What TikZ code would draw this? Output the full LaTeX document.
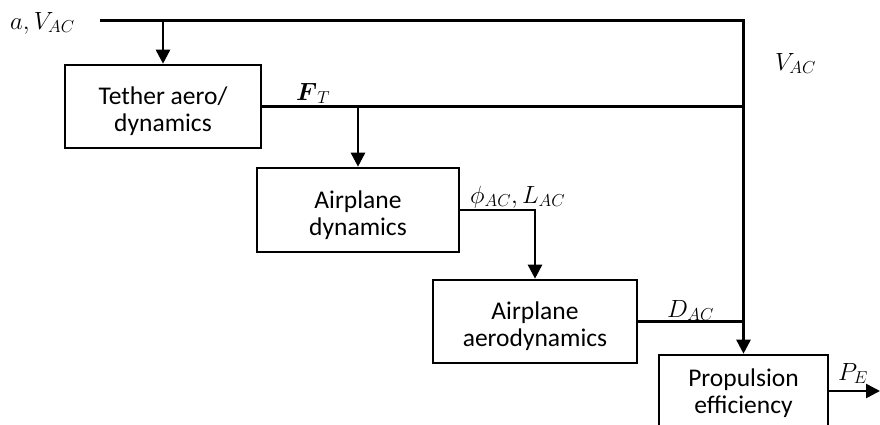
\documentclass[tikz,border=0pt]{standalone}
\usepackage{amsmath}
\usepackage{fontspec}
\setmainfont{Carlito}
\usetikzlibrary{arrows.meta}
\tikzset{
  blk/.style={draw, line width=2.6pt, rectangle, inner sep=0pt},
  txt/.style={align=center, inner sep=0pt, font=\fontsize{25.5}{27}\selectfont},
  wire/.style={line width=2.6pt},
  arr/.style={wire, -{Triangle[width=14pt,length=14pt]}},
  lbl/.style={anchor=base west, inner sep=0pt, font=\fontsize{23}{28}\selectfont}
}
\begin{document}
\begin{tikzpicture}[x=1pt,y=-1pt]
\useasboundingbox (0,0) rectangle (880,424);
\clip (0,0) rectangle (880,424);
\node[blk, minimum width=196pt, minimum height=83pt] (b1) at (163,106.5) {};
\node[blk, minimum width=202pt, minimum height=84pt] (b2) at (358,210) {};
\node[blk, minimum width=204pt, minimum height=83pt] (b3) at (535,321.5) {};
\node[blk, minimum width=169pt, minimum height=72pt] (b4) at (743.5,391) {};
\node[txt] (t1) at ([yshift=-5pt]b1.center) {Tether aero/\\dynamics};
\node[txt] (t2) at ([yshift=-5pt]b2.center) {Airplane\\dynamics};
\node[txt] (t3) at ([yshift=-5pt]b3.center) {Airplane\\aerodynamics};
\node[txt] (t4) at ([yshift=-2pt]b4.center) {Propulsion\\efficiency};
\coordinate (in) at (100,20.7);
\coordinate (j1) at (163,20.7);
\coordinate (tr) at (743.5,20.7);
\coordinate (j2) at (743.5,106.5);
\coordinate (j3) at (358,106.5);
\coordinate (j4) at (743.5,321.5);
\coordinate (out) at (880,391);
\draw[arr] (in) -- (tr) -- (b4.north);
\draw[arr] (j1) -- (b1.north);
\draw[wire] (b1.east) -- (j2);
\draw[arr] (j3) -- (b2.north);
\draw[arr] (b2.east) -| (b3.north);
\draw[wire] (b3.east) -- (j4);
\draw[arr] (b4.east) -- (out);
\node[lbl] (l1) at (10,29) {$a,V_{AC}$};
\node[lbl] (l2) at (775,70) {$V_{AC}$};
\node[lbl] (l3) at (296,100) {$\boldsymbol{F}_T$};
\node[lbl] (l4) at (470,203) {$\phi_{AC},L_{AC}$};
\node[lbl] (l5) at (667,317) {$D_{AC}$};
\node[lbl] (l6) at (838,380) {$P_E$};
\end{tikzpicture}
\end{document}
